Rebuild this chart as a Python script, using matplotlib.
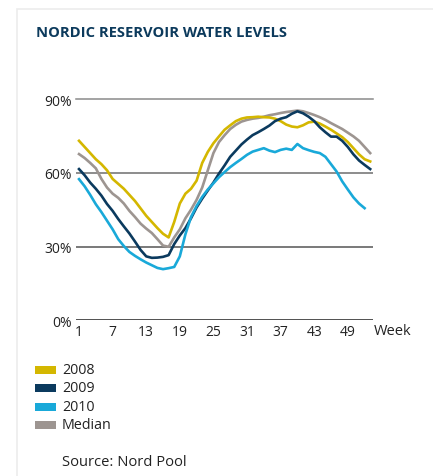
import matplotlib.pyplot as plt
from matplotlib.patches import Rectangle

# Weekly reservoir filling (%)
weeks_53 = list(range(1, 54))
weeks_52 = list(range(1, 53))

level_2008 = [73, 70.5, 68, 65.5, 63.5, 61, 57.5, 55.5, 53.5, 51, 48.5, 45.5, 42.5, 40,
              37.5, 35.2, 33.7, 40, 47.5, 51.5, 53.5, 56.8, 64, 68.5, 72, 74.8, 77.5,
              79.3, 81, 82, 82.5, 82.6, 82.8, 82.6, 82.5, 82, 81, 79.6, 78.8, 78.5, 79.3,
              80.5, 80.8, 80, 78.8, 77.5, 76, 74.5, 72.5, 70, 67.5, 65.5, 64.6]
level_2009 = [61.5, 59, 56, 53.5, 50.7, 47.3, 44.5, 41.2, 38.2, 35.3, 32, 28.6, 26, 25.4,
              25.5, 25.8, 26.5, 31, 34.5, 37.5, 41.5, 45.9, 49.5, 52.8, 56, 59.7, 63,
              66.5, 69, 71.5, 73.5, 75.3, 76.5, 77.8, 79.2, 81, 82, 82.6, 84, 85, 84.2,
              82.8, 81, 78.5, 76.5, 74.7, 74.7, 73, 70.5, 67.5, 65, 63.2, 61.5]
level_2010 = [57.4, 54.5, 51, 47.2, 44, 40.5, 37, 33, 30.2, 27.8, 26.2, 24.8, 23.5, 22.4,
              21.3, 20.8, 21.2, 21.7, 26, 35, 42, 46.5, 50.2, 53.2, 55.7, 58.2, 60.3,
              62.3, 64, 65.6, 67.3, 68.6, 69.3, 70, 69, 68.4, 69.3, 69.8, 69.3, 71.7, 70,
              69.2, 68.5, 68, 66.5, 63.5, 60.5, 56.5, 53.2, 50, 47.5, 45.6]
level_median = [67.6, 66, 64, 61.8, 57.5, 54, 51.5, 49.8, 47.5, 44.5, 42, 39.3, 37.3, 35.5,
                33, 30.4, 29.9, 33.7, 37, 41.5, 45, 49, 54, 61, 68, 72.5, 75.3, 77.8,
                79.5, 80.8, 81.5, 82, 82.3, 82.8, 83.4, 83.8, 84.3, 84.7, 85, 85.3, 85,
                84.3, 83.5, 82.6, 81.5, 80.2, 79, 77.8, 76.3, 74.8, 73, 70.5, 68]

x_ticks = [1, 7, 13, 19, 25, 31, 37, 43, 49]
y_ticks = [0, 30, 60, 90]

c2008 = "#d4b700"
c2009 = "#0b3a5e"
c2010 = "#19a9d9"
cmed = "#9d9591"
navy = "#0c3a5c"
txt = "#222222"

plt.rcParams['font.family'] = ['Open Sans', 'DejaVu Sans']

fig = plt.figure(figsize=(4.33, 4.77), dpi=100)

# faint card edge
fig.patches.append(Rectangle((17 / 433, -0.1), 1.2, 1.08, transform=fig.transFigure,
                             facecolor="none", edgecolor="#ececec", lw=1.2))

fig.text(36 / 433, 1 - 33 / 477, "NORDIC RESERVOIR WATER LEVELS", fontsize=10.6,
         fontweight="bold", color=navy, va="center", ha="left")

ax = fig.add_axes([76 / 433, 155.7 / 477, 297 / 433, 221.3 / 477])
ax.set_xlim(0.46, 53.5)
ax.set_ylim(0, 90)

ax.axhline(90, color="#8a8a8a", lw=1.1, clip_on=False, zorder=1)
ax.axhline(60, color="#6e6e6e", lw=1.1, zorder=1)
ax.axhline(30, color="#555555", lw=1.1, zorder=1)
ax.axhline(0, color="#222222", lw=1.1, zorder=1)

lw = 1.9
ax.plot(weeks_53, level_median, color=cmed, lw=lw, zorder=3)
ax.plot(weeks_53, level_2008, color=c2008, lw=lw, zorder=3)
ax.plot(weeks_53, level_2009, color=c2009, lw=lw, zorder=4)
ax.plot(weeks_52, level_2010, color=c2010, lw=lw, zorder=5)

for s in ax.spines.values():
    s.set_visible(False)
ax.set_xticks(x_ticks)
ax.set_xticklabels([str(t) for t in x_ticks])
ax.set_yticks(y_ticks)
ax.set_yticklabels([f"{t}%" for t in y_ticks])
ax.tick_params(length=0, labelsize=10, colors=txt)
ax.tick_params(axis="y", pad=3)
ax.tick_params(axis="x", pad=2.5)
ax.text(53.6, -1.3, "Week", fontsize=10.5, color=txt, ha="left", va="top")

# legend
legend_items = [("2008", c2008, 370.5), ("2009", c2009, 389), ("2010", c2010, 407.5),
                ("Median", cmed, 426)]
for label, col, yc in legend_items:
    fig.patches.append(Rectangle((35 / 433, 1 - (yc + 4) / 477), 21 / 433, 8 / 477,
                                 transform=fig.transFigure, facecolor=col, edgecolor="none"))
    fig.text(62 / 433, 1 - yc / 477, label, fontsize=10.3, color=txt, va="center", ha="left")

fig.text(62 / 433, 1 - 463 / 477, "Source: Nord Pool", fontsize=10.6, color=txt,
         va="center", ha="left")

fig.savefig("out.png", dpi=100)
